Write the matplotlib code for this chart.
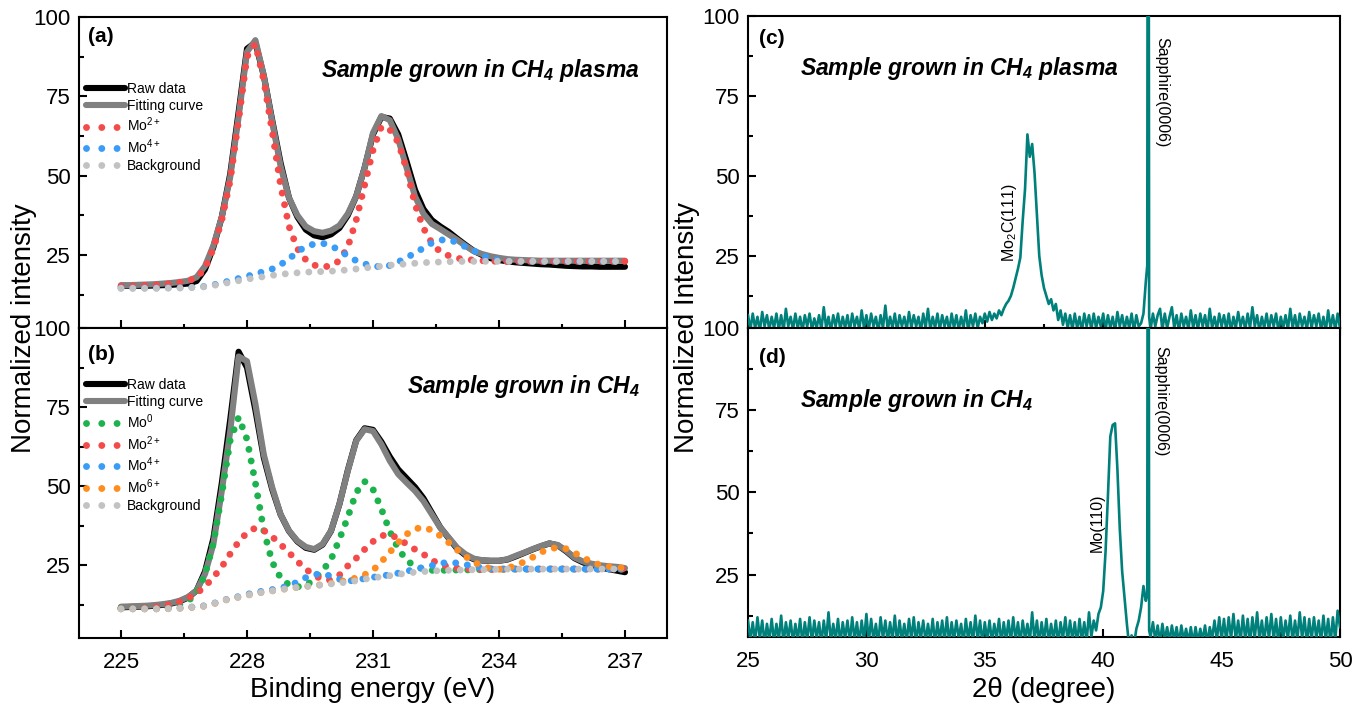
import numpy as np
import matplotlib
matplotlib.use('Agg')
import matplotlib.pyplot as plt
from matplotlib.lines import Line2D
from matplotlib.ticker import FixedLocator

plt.rcParams['font.family'] = ['Liberation Sans', 'DejaVu Sans']
plt.rcParams['mathtext.fontset'] = 'custom'
plt.rcParams['mathtext.rm'] = 'Liberation Sans'
plt.rcParams['mathtext.it'] = 'Liberation Sans:italic'
plt.rcParams['mathtext.bf'] = 'Liberation Sans:bold'
plt.rcParams['mathtext.bfit'] = 'Liberation Sans:bold:italic'

# ---------------- XPS data (binding energy grid, 0.2 eV) ----------------
energy_ev = np.round(225.0 + 0.2 * np.arange(61), 1)

a_raw = [15.3, 15.3, 15.3, 15.3, 15.4, 15.5, 15.6, 15.8, 16.0, 16.8,
         20.5, 27.5, 37.0, 50.5, 70.0, 90.0, 92.0, 81.5, 67.5, 54.0,
         43.0, 37.0, 33.0, 31.2, 30.6, 31.5, 33.5, 37.5, 43.5, 52.5,
         63.0, 68.5, 68.0, 63.0, 54.5, 45.5, 39.5, 36.0, 34.0, 32.3,
         30.2, 28.2, 26.3, 25.0, 24.0, 23.4, 23.0, 22.7, 22.5, 22.3,
         22.1, 22.0, 21.8, 21.6, 21.5, 21.4, 21.4, 21.3, 21.3, 21.3, 21.3]
a_fit = [15.5, 15.5, 15.6, 15.7, 15.8, 16.0, 16.2, 16.5, 16.9, 18.0,
         21.5, 28.0, 37.0, 49.5, 68.5, 89.0, 92.7, 81.5, 67.0, 53.0,
         43.0, 37.5, 34.0, 32.5, 32.0, 32.7, 34.3, 38.0, 43.5, 52.5,
         63.5, 68.8, 67.5, 61.5, 52.5, 43.5, 38.0, 34.8, 33.2, 31.5,
         29.8, 27.9, 26.2, 25.3, 24.6, 24.1, 23.7, 23.5, 23.4, 23.3,
         23.2, 23.2, 23.2, 23.2, 23.2, 23.2, 23.2, 23.2, 23.2, 23.2, 23.2]
a_mo2 = [15.2, 15.2, 15.3, 15.4, 15.5, 15.7, 16.0, 16.4, 16.9, 17.8,
         20.8, 27.0, 36.0, 48.5, 67.5, 87.5, 91.5, 80.0, 64.0, 47.0,
         34.0, 27.0, 23.5, 21.8, 21.2, 21.6, 23.2, 27.5, 36.0, 47.0,
         58.0, 65.5, 64.5, 60.5, 52.0, 41.0, 33.5, 28.8, 26.0, 24.8,
         24.0, 23.6, 23.4, 23.2, 23.1, 23.0, 23.0, 23.0, 23.0, 23.0,
         23.0, 23.0, 23.0, 23.0, 23.0, 23.0, 23.0, 23.0, 23.0, 23.0, 23.0]
a_mo4 = [14.6, 14.6, 14.6, 14.6, 14.6, 14.6, 14.7, 14.7, 14.8, 14.9,
         15.1, 15.6, 16.2, 16.9, 17.6, 18.3, 19.0, 19.8, 20.6, 22.0,
         23.7, 26.1, 27.6, 28.5, 28.7, 27.9, 26.5, 24.7, 23.2, 22.2,
         21.5, 21.3, 21.7, 22.8, 24.2, 25.6, 27.2, 28.8, 29.7, 29.9,
         28.9, 27.6, 26.4, 24.8, 23.9, 23.4, 23.1, 23.0, 23.0, 23.0,
         23.0, 23.0, 23.0, 23.0, 23.0, 23.0, 23.0, 23.0, 23.0, 23.0, 23.0]
a_bg = [14.5, 14.5, 14.5, 14.5, 14.5, 14.5, 14.6, 14.6, 14.7, 14.8,
        15.0, 15.4, 15.9, 16.4, 16.9, 17.4, 17.8, 18.2, 18.6, 18.9,
        19.2, 19.4, 19.6, 19.7, 19.8, 19.9, 20.1, 20.3, 20.6, 20.9,
        21.2, 21.5, 21.8, 22.0, 22.2, 22.4, 22.6, 22.7, 22.8, 22.9,
        22.95, 23.0, 23.0, 23.0, 23.0, 23.0, 23.0, 23.0, 23.0, 23.0,
        23.0, 23.0, 23.0, 23.0, 23.0, 23.0, 23.0, 23.0, 23.0, 23.0, 23.0]

b_raw = [11.7, 11.8, 11.9, 12.0, 12.2, 12.5, 12.9, 13.6, 14.8, 17.0,
         23.0, 33.5, 51.0, 71.0, 92.5, 87.5, 74.0, 59.0, 49.0, 41.0,
         35.8, 32.5, 30.5, 29.9, 31.5, 35.8, 44.3, 55.0, 64.5, 68.3,
         67.8, 64.0, 59.3, 55.3, 52.5, 49.7, 46.2, 41.6, 37.0, 33.6,
         30.3, 28.2, 26.9, 26.5, 26.4, 26.4, 26.8, 27.8, 28.9, 30.0,
         31.0, 31.9, 31.3, 29.4, 27.2, 25.9, 25.0, 24.3, 23.8, 23.3, 22.8]
b_fit = [11.9, 12.0, 12.1, 12.2, 12.4, 12.7, 13.1, 13.8, 15.0, 17.0,
         22.2, 31.7, 48.5, 67.4, 91.0, 89.5, 76.0, 60.0, 49.6, 41.1,
         35.9, 32.7, 30.8, 30.1, 31.7, 35.9, 44.3, 54.8, 64.3, 68.0,
         67.4, 63.2, 58.0, 53.8, 51.1, 48.5, 45.3, 41.1, 36.9, 33.8,
         30.6, 28.5, 27.1, 26.6, 26.4, 26.4, 26.9, 28.0, 29.0, 30.1,
         31.1, 31.9, 31.4, 29.6, 27.4, 26.2, 25.5, 25.0, 24.7, 24.5, 24.1]
b_mo0 = [11.5, 11.5, 11.5, 11.6, 11.7, 11.8, 12.0, 12.6, 13.8, 16.0,
         22.0, 32.0, 47.5, 64.5, 71.8, 64.8, 51.0, 36.0, 26.0, 21.0,
         18.8, 18.2, 18.6, 20.5, 23.3, 26.8, 33.2, 40.2, 48.0, 51.5,
         49.0, 42.8, 35.7, 30.3, 26.5, 24.7, 23.8, 23.4, 23.4, 23.4,
         23.5, 23.5, 23.6, 23.6, 23.7, 23.7, 23.8, 23.8, 23.8, 23.8,
         23.8, 23.8, 23.8, 23.8, 23.8, 23.8, 23.8, 23.8, 23.8, 23.8, 23.8]
b_mo2 = [11.4, 11.4, 11.5, 11.6, 11.8, 12.1, 12.6, 13.4, 14.6, 16.1,
         18.3, 21.2, 24.5, 28.6, 32.4, 35.3, 36.8, 36.0, 34.0, 31.6,
         29.0, 26.2, 23.8, 21.8, 20.5, 20.3, 21.9, 24.8, 27.2, 30.0,
         32.5, 34.3, 34.8, 33.4, 31.7, 30.0, 28.5, 26.6, 25.3, 24.5,
         24.1, 23.9, 23.7, 23.7, 23.7, 23.7, 23.8, 23.8, 23.8, 23.8,
         23.8, 23.8, 23.8, 23.8, 23.8, 23.8, 23.8, 23.8, 23.8, 23.8, 23.8]
b_mo4 = [11.3, 11.3, 11.3, 11.3, 11.3, 11.3, 11.4, 11.5, 11.7, 11.9,
         12.2, 12.9, 13.8, 14.5, 15.1, 15.8, 16.4, 16.9, 17.3, 17.8,
         18.5, 19.7, 21.1, 22.1, 22.2, 21.6, 20.6, 20.0, 20.3, 20.8,
         21.2, 21.6, 22.0, 22.5, 23.1, 23.7, 24.3, 24.9, 25.6, 25.9,
         25.7, 25.2, 24.7, 24.2, 23.9, 23.8, 23.8, 23.8, 23.8, 23.8,
         23.8, 23.8, 23.8, 23.8, 23.8, 23.8, 23.8, 23.8, 23.8, 23.8, 23.8]
b_mo6 = [11.2, 11.2, 11.2, 11.2, 11.2, 11.2, 11.3, 11.4, 11.6, 11.8,
         12.1, 12.8, 13.7, 14.4, 14.9, 15.5, 16.1, 16.5, 16.9, 17.3,
         17.7, 18.0, 18.3, 18.6, 18.9, 19.3, 19.8, 20.3, 21.0, 22.0,
         23.4, 26.1, 29.1, 32.2, 34.8, 36.5, 37.0, 36.1, 34.3, 32.2,
         29.9, 27.8, 26.0, 24.7, 23.9, 23.7, 24.1, 24.9, 26.1, 27.5,
         29.1, 30.2, 30.6, 30.2, 28.9, 27.4, 26.1, 25.1, 24.6, 24.3, 24.1]
b_bg = [11.2, 11.2, 11.2, 11.2, 11.2, 11.2, 11.3, 11.4, 11.6, 11.8,
        12.1, 12.8, 13.7, 14.4, 14.9, 15.5, 16.1, 16.5, 16.9, 17.3,
        17.7, 18.0, 18.3, 18.5, 18.8, 19.1, 19.4, 19.7, 20.1, 20.6,
        21.0, 21.4, 21.7, 22.1, 22.5, 22.8, 23.0, 23.2, 23.3, 23.4,
        23.5, 23.5, 23.6, 23.6, 23.7, 23.7, 23.8, 23.8, 23.8, 23.8,
        23.8, 23.8, 23.8, 23.8, 23.8, 23.8, 23.8, 23.8, 23.8, 23.8, 23.8]

# ---------------- XRD data (2theta grid, 0.1 degree) ----------------
two_theta = np.round(25.0 + 0.1 * np.arange(251), 1)

xrd_c = [6.5, 2, 7, 2.5, 6, 1.5, 7.5, 3, 6.5, 2,
         6, 2.5, 7, 2, 6.5, 1.5, 8.5, 3, 6, 2,
         7, 2.5, 6, 1.5, 6.5, 3, 7, 2, 5.5, 2.5,
         6.5, 2, 9, 2.5, 6, 1.5, 6.5, 3, 7, 2,
         6, 2.5, 6.5, 1.5, 7, 3, 6, 2, 8, 2.5,
         6.5, 2, 7, 3, 6, 1.5, 6.5, 2.5, 9.5, 2,
         6, 2.5, 7, 1.5, 6.5, 3, 6, 2, 7.5, 2.5,
         6.5, 3, 6, 1.5, 7, 2.5, 8.5, 2, 6, 2.5,
         7, 2, 6.5, 3, 6, 1.5, 7, 2.5, 6.5, 2,
         6, 2.5, 8, 1.5, 6.5, 3, 7, 2.5, 6, 4,
         7, 4.5, 7.5, 5, 7, 5.5, 8, 6.5, 8.5, 10,
         11, 12.5, 15, 18, 21, 24.5, 36, 46, 63, 56,
         60, 51, 38, 25, 19, 15, 12.5, 10, 11.5, 8,
         10, 5, 8, 3.5, 7, 2.5, 6.5, 2, 7, 2.5,
         6, 1.5, 7, 3, 6.5, 2, 7, 2.5, 6, 3,
         7, 2, 6.5, 2.5, 6, 1.5, 7.5, 3, 6.5, 2,
         6, 2.5, 7, 1.5, 6.5, 3, 4, 7, 17, 300,
         2, 7, 3, 6.5, 8.5, 2, 7, 2.5, 6, 9,
         2.5, 6.5, 1.5, 7, 3, 6, 2, 8, 2.5, 6.5,
         2, 7, 3, 6.5, 1.5, 8.5, 2.5, 6, 2, 7,
         3, 6.5, 2, 7, 1.5, 6, 2.5, 7.5, 3, 6,
         2, 7, 2.5, 9, 3, 6.5, 1.5, 6, 2.5, 7,
         2, 6.5, 3, 7, 1.5, 6, 2.5, 6.5, 2, 8.5,
         2.5, 6.5, 1.5, 7, 3, 6, 2, 7.5, 2.5, 6.5,
         3, 7, 2, 6, 1.5, 8, 2.5, 6.5, 2, 7,
         2.5]

xrd_d = [11, 5, 10.5, 4.5, 12, 5.5, 11, 4, 10, 5,
         11.5, 4.5, 10, 5, 12.5, 4, 10.5, 5.5, 11, 4.5,
         10, 5, 11.5, 4, 10.5, 5, 12, 4.5, 11, 5.5,
         10.5, 4, 11, 5, 13.5, 4.5, 10, 5, 11.5, 4,
         10.5, 5.5, 11, 4.5, 12, 5, 10.5, 4, 11, 5,
         13, 4.5, 11.5, 5, 10, 4, 12, 5.5, 11, 4.5,
         10.5, 5, 12.5, 4, 11, 5, 10, 4.5, 11.5, 5,
         12, 4, 10.5, 5.5, 11, 4.5, 10, 5, 11.5, 4,
         10.5, 5, 11, 4.5, 12, 4, 10.5, 5, 11, 5.5,
         10, 4, 11.5, 5, 10.5, 4.5, 12.5, 5, 11, 4,
         10.5, 5, 11, 4.5, 10, 5.5, 11.5, 4, 10.5, 5,
         11, 4.5, 12, 5, 10.5, 4, 11, 5.5, 10, 4.5,
         13.5, 5, 11, 4, 10.5, 5, 11.5, 4.5, 10, 5,
         11, 4, 10.5, 5.5, 12, 4.5, 11, 5, 10.5, 4,
         11.5, 5, 10.5, 4.5, 13.5, 6, 11, 8, 13, 15,
         20, 32, 49, 67, 70.5, 71, 57, 39, 26, 18,
         10, 3, 6.5, 3.5, 8.5, 11, 15, 21.5, 17, 300,
         6, 10.5, 5, 9.5, 4.5, 10, 5, 9, 4.5, 9.5,
         5, 9, 4, 9.5, 5, 8.5, 4.5, 9, 4, 9,
         4.5, 8.5, 5, 9.5, 4, 9, 5.5, 11, 5, 12,
         5, 11.5, 4.5, 12, 5.5, 13, 5, 11, 4.5, 12.5,
         5, 11.5, 4, 12, 5.5, 13.5, 5, 11, 4.5, 12,
         5.5, 13, 5, 11.5, 4, 12, 5, 11, 5.5, 12.5,
         4.5, 11, 5, 13.5, 5.5, 12, 4, 11.5, 5, 12,
         5.5, 11, 4.5, 12.5, 5, 11.5, 4, 12, 5, 14,
         9]

# finer samples read around the narrow sapphire (0006) line
spike_theta = [41.86, 41.94]
spike_c = [22, 6]
spike_d = [19, 8]

a_labels = ['Raw data', 'Fitting curve', 'Mo$^{2+}$', 'Mo$^{4+}$', 'Background']
b_labels = ['Raw data', 'Fitting curve', 'Mo$^0$', 'Mo$^{2+}$', 'Mo$^{4+}$', 'Mo$^{6+}$', 'Background']
xps_ticks = [225, 228, 231, 234, 237]
xrd_ticks = [25, 30, 35, 40, 45, 50]
int_ticks = [25, 50, 75, 100]

# ---------------- styles ----------------
C_RAW = '#000000'
C_FIT = '#808080'
C_MO0 = '#1cb34e'
C_MO2 = '#f44a4a'
C_MO4 = '#3a9cf6'
C_MO6 = '#ff8c1e'
C_BG = '#c2c2c2'
C_XRD = '#00807b'
DOT = (0, (0.001, 1.7))
DOT_LEG = (0, (0.001, 2.2))
LW_THICK = 4.4
LW_DOT = 5.0

fig = plt.figure(figsize=(13.66, 7.09), dpi=100)


def px_axes(l, t, r, b):
    return fig.add_axes([l / 1366, 1 - b / 709, (r - l) / 1366, (b - t) / 709])


ax_a = px_axes(79, 17, 667, 328)
ax_b = px_axes(79, 328, 667, 638)
ax_c = px_axes(748, 16, 1340, 328)
ax_d = px_axes(748, 328, 1340, 637)

for ax in (ax_a, ax_b, ax_c, ax_d):
    for s in ax.spines.values():
        s.set_linewidth(1.5)
    ax.tick_params(axis='both', which='both', width=1.5, labelsize=16)
    ax.tick_params(axis='y', which='major', direction='in', length=6, pad=6)
    ax.tick_params(axis='y', which='minor', direction='in', length=3.5)
    ax.yaxis.set_major_locator(FixedLocator(int_ticks))
    ax.yaxis.set_minor_locator(FixedLocator([12.5, 37.5, 62.5, 87.5]))


def draw_xps(ax, raw, fit, comps, bg, labels, leg_anchor):
    ax.plot(energy_ev, raw, color=C_RAW, lw=LW_THICK, solid_capstyle='round',
            solid_joinstyle='round', zorder=2)
    ax.plot(energy_ev, fit, color=C_FIT, lw=LW_THICK, solid_capstyle='round',
            solid_joinstyle='round', zorder=3)
    for vals, col in comps:
        ax.plot(energy_ev, vals, color=col, lw=LW_DOT, linestyle=DOT,
                dash_capstyle='round', zorder=4)
    ax.plot(energy_ev, bg, color=C_BG, lw=LW_DOT, linestyle=DOT,
            dash_capstyle='round', zorder=5)
    handles = [Line2D([], [], color=C_RAW, lw=LW_THICK, solid_capstyle='round'),
               Line2D([], [], color=C_FIT, lw=LW_THICK, solid_capstyle='round')]
    for _, col in comps:
        handles.append(Line2D([], [], color=col, lw=LW_DOT, linestyle=DOT_LEG,
                              dash_capstyle='round'))
    handles.append(Line2D([], [], color=C_BG, lw=LW_DOT, linestyle=DOT_LEG,
                          dash_capstyle='round'))
    ax.legend(handles, labels, loc='upper left', bbox_to_anchor=leg_anchor,
              frameon=False, fontsize=10, handlelength=2.8, handletextpad=0.15,
              labelspacing=0.22, borderaxespad=0, borderpad=0)
    ax.set_xlim(224, 238)
    ax.set_ylim(2, 100)
    ax.xaxis.set_major_locator(FixedLocator(xps_ticks))
    ax.xaxis.set_minor_locator(FixedLocator([226.5, 229.5, 232.5, 235.5]))


draw_xps(ax_a, a_raw, a_fit, [(a_mo2, C_MO2), (a_mo4, C_MO4)], a_bg, a_labels,
         (0.012, 0.792))
draw_xps(ax_b, b_raw, b_fit, [(b_mo0, C_MO0), (b_mo2, C_MO2), (b_mo4, C_MO4),
                              (b_mo6, C_MO6)], b_bg, b_labels, (0.012, 0.838))

ax_a.tick_params(axis='x', which='major', direction='inout', length=11, labelbottom=False)
ax_a.tick_params(axis='x', which='minor', direction='inout', length=6)
ax_b.tick_params(axis='x', which='major', direction='in', length=6, pad=10)
ax_b.tick_params(axis='x', which='minor', direction='in', length=3.5)

title_kw = dict(fontsize=16.5, fontweight='bold', fontstyle='italic')
ax_a.text(237.36, 83, r'Sample grown in CH$_\mathbfit{4}$ plasma', ha='right',
          va='center', **title_kw)
ax_b.text(237.36, 81.5, r'Sample grown in CH$_\mathbfit{4}$', ha='right',
          va='center', **title_kw)
ax_a.text(0.015, 0.936, '(a)', transform=ax_a.transAxes, fontsize=15,
          fontweight='bold', va='center')
ax_b.text(0.015, 0.916, '(b)', transform=ax_b.transAxes, fontsize=15,
          fontweight='bold', va='center')

# ---------------- XRD panels ----------------
for ax, vals, spike, ylo in ((ax_c, xrd_c, spike_c, 2.5), (ax_d, xrd_d, spike_d, 6)):
    th = np.concatenate([two_theta, spike_theta])
    iv = np.concatenate([vals, spike])
    order = np.argsort(th, kind='stable')
    ax.plot(th[order], iv[order], color=C_XRD, lw=1.9, zorder=3)
    ax.set_xlim(25, 50)
    ax.set_ylim(ylo, 100)
    ax.xaxis.set_major_locator(FixedLocator(xrd_ticks))
    ax.xaxis.set_minor_locator(FixedLocator([27.5, 32.5, 37.5, 42.5, 47.5]))

ax_c.tick_params(axis='x', which='major', direction='inout', length=12, labelbottom=False)
ax_c.tick_params(axis='x', which='minor', direction='inout', length=6)
ax_d.tick_params(axis='x', which='major', direction='in', length=6, pad=10)
ax_d.tick_params(axis='x', which='minor', direction='in', length=3.5)

ax_c.text(27.2, 83.7, r'Sample grown in CH$_\mathbfit{4}$ plasma', ha='left',
          va='center', **title_kw)
ax_d.text(27.2, 78, r'Sample grown in CH$_\mathbfit{4}$', ha='left',
          va='center', **title_kw)
ax_c.text(0.019, 0.929, '(c)', transform=ax_c.transAxes, fontsize=15,
          fontweight='bold', va='center')
ax_d.text(0.019, 0.906, '(d)', transform=ax_d.transAxes, fontsize=15,
          fontweight='bold', va='center')

ann_kw = dict(fontsize=11.5, ha='center', va='center')
ax_c.text(36.06, 35.6, 'Mo$_2$C(111)', rotation=90, **ann_kw)
ax_c.text(42.48, 76.3, 'Sapphire(0006)', rotation=-90, **ann_kw)
ax_d.text(39.74, 40.9, 'Mo(110)', rotation=90, **ann_kw)
ax_d.text(42.42, 77.7, 'Sapphire(0006)', rotation=-90, **ann_kw)

# ---------------- axis titles ----------------
fig.text(24 / 1366, 1 - 328 / 709, 'Normalized intensity', rotation=90,
         ha='center', va='center', fontsize=20)
fig.text(687 / 1366, 1 - 328 / 709, 'Normalized Intensity', rotation=90,
         ha='center', va='center', fontsize=20)
fig.text(373 / 1366, 1 - 690 / 709, 'Binding energy (eV)', ha='center',
         va='center', fontsize=20)
fig.text(1044 / 1366, 1 - 690 / 709, '2\u03b8 (degree)', ha='center',
         va='center', fontsize=20)

fig.savefig('out.png', dpi=100)
